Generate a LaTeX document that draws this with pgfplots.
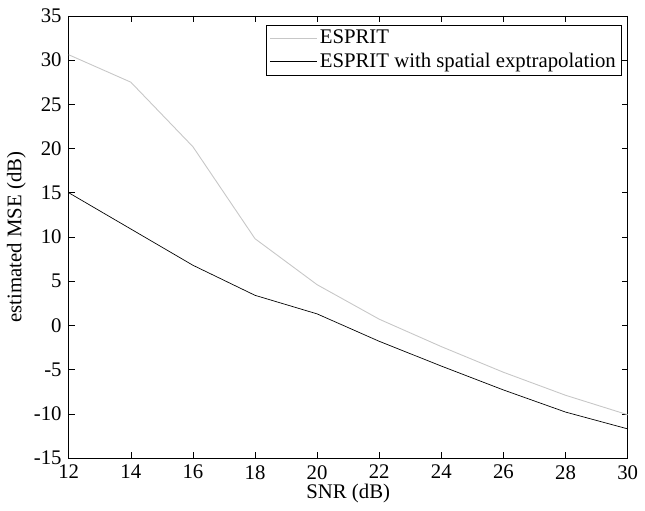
\documentclass[border=0pt]{standalone}
\usepackage{fontspec}
\setmainfont{Liberation Serif}
\usepackage{pgfplots}
\pgfplotsset{compat=1.18}
\begin{document}
\fontsize{21bp}{24bp}\selectfont
\begin{tikzpicture}
\begin{axis}[
    scale only axis,
    width=565bp, height=447bp,
    xmin=12, xmax=30, ymin=-15, ymax=35,
    xtick={12,14,...,30},
    ytick={-15,-10,...,35},
    tick align=inside,
    major tick length=6bp,
    tick style={black, line width=0.5pt},
    axis line style={line width=0.6pt},
    xlabel={SNR (dB)},
    ylabel={estimated MSE (dB)},
    /pgf/number format/assume math mode=true,
    ticklabel style={font=\fontsize{21bp}{24bp}\selectfont},
    label style={font=\fontsize{21bp}{24bp}\selectfont},
    xlabel style={yshift=9bp},
    ylabel style={yshift=-6bp},
    legend style={at={(0.988,0.98)}, anchor=north east, draw=black,
        font=\fontsize{21bp}{24bp}\selectfont, inner sep=3bp, row sep=2bp,
        legend cell align=left},
    legend image code/.code={\draw[#1] (0bp,0bp) -- (48bp,0bp);},
]
\addplot[color=black!22, line width=0.9pt] coordinates {
(12,30.6) (14,27.5) (16,20.2) (18,9.8) (20,4.6) (22,0.7) (24,-2.4) (26,-5.3) (28,-7.9) (30,-10.1)};
\addplot[color=black, line width=0.7pt] coordinates {
(12,15.0) (14,10.9) (16,6.8) (18,3.4) (20,1.3) (22,-1.8) (24,-4.6) (26,-7.3) (28,-9.8) (30,-11.7)};
\legend{ESPRIT, ESPRIT with spatial exptrapolation}
\end{axis}
\path ([yshift=16bp]current axis.north west);
\end{tikzpicture}
\end{document}
